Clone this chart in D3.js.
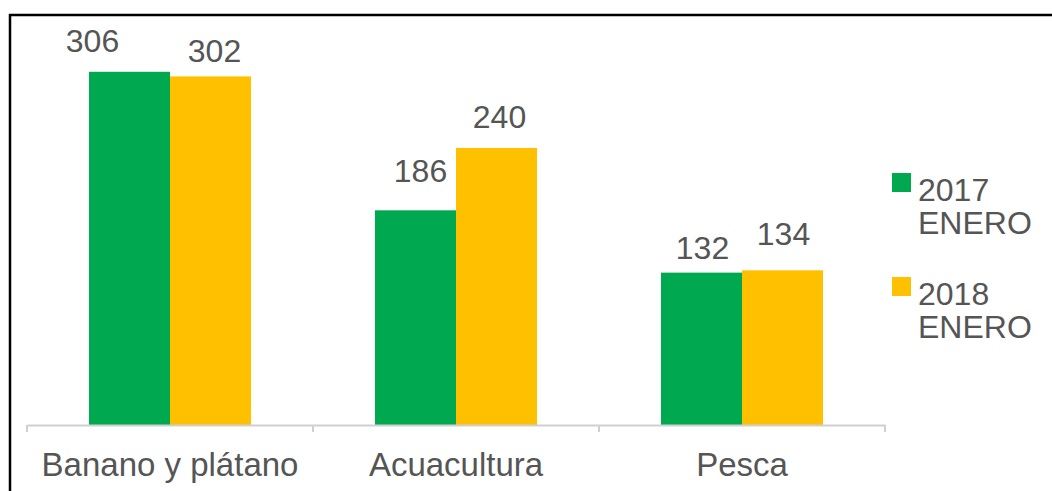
<!DOCTYPE html>
<html lang="es">
<head>
<meta charset="UTF-8">
<title>Banano, acuacultura y pesca</title>
<script src="https://d3js.org/d3.v7.min.js"></script>
<style>
    body { margin: 0; background: #fff; }
    svg { display: block; }
    text { font-family: "Liberation Sans", Arial, sans-serif; fill: #555; }
</style>
</head>
<body>
<svg width="1052" height="491"></svg>
<script>
    // datos
    const categories = ["Banano y plátano", "Acuacultura", "Pesca"];
    const seriesNames = ["2017 ENERO", "2018 ENERO"];
    const values2017 = [306, 186, 132];
    const values2018 = [302, 240, 134];

    const colors = ["#00a94f", "#ffc000"];
    // pequeños ajustes de posición de las etiquetas [dx, dy] (como en el original)
    const labelNudge = [
        [[-37, -20], [4, -14]],
        [[5, -28], [3, -20]],
        [[1, -14], [1, -25]]
    ];

    const svg = d3.select("svg");
    const baseY = 425;

    // marco
    svg.append("line").attr("x1", 9).attr("x2", 1052).attr("y1", 15).attr("y2", 15)
        .attr("stroke", "#000").attr("stroke-width", 2.5);
    svg.append("line").attr("x1", 10).attr("x2", 10).attr("y1", 14).attr("y2", 491)
        .attr("stroke", "#000").attr("stroke-width", 2.5);

    const x0 = d3.scaleBand().domain(categories).range([27, 885]).padding(0);
    const x1 = d3.scaleBand().domain(seriesNames).range([0, x0.bandwidth()])
        .paddingInner(0).paddingOuter(0.765);
    const y = d3.scaleLinear().domain([0, 350]).range([baseY, 21]);

    const rows = categories.map((c, i) => ({
        cat: c,
        vals: [values2017[i], values2018[i]]
    }));

    const group = svg.selectAll("g.cat")
        .data(rows)
        .enter()
        .append("g")
        .attr("class", "cat")
        .attr("transform", d => `translate(${x0(d.cat)},0)`);

    group.selectAll("rect")
        .data(d => d.vals.map((v, j) => ({ v, s: seriesNames[j], j })))
        .enter()
        .append("rect")
        .attr("x", d => x1(d.s))
        .attr("y", d => y(d.v))
        .attr("width", x1.bandwidth())
        .attr("height", d => baseY - y(d.v))
        .attr("fill", d => colors[d.j]);

    group.each(function (d, i) {
        d3.select(this).selectAll("text.val")
            .data(d.vals)
            .enter()
            .append("text")
            .attr("class", "val")
            .attr("x", (v, j) => x1(seriesNames[j]) + x1.bandwidth() / 2 + labelNudge[i][j][0])
            .attr("y", (v, j) => y(v) + labelNudge[i][j][1])
            .attr("text-anchor", "middle")
            .style("font-size", "32px")
            .text(v => v);
    });

    // eje
    const axis = svg.append("g").attr("transform", `translate(0,${baseY})`)
        .call(d3.axisBottom(x0).tickSize(0).tickPadding(28));
    axis.select(".domain").attr("stroke", "#d0d0d0").attr("stroke-width", 2);
    axis.selectAll(".tick text")
        .style("font-size", "33px")
        .attr("font-family", null)
        .attr("fill", null);
    const bounds = categories.map(c => x0(c)).concat([x0.range()[1]]);
    axis.selectAll("line.sep")
        .data(bounds)
        .enter()
        .append("line")
        .attr("class", "sep")
        .attr("x1", d => d).attr("x2", d => d)
        .attr("y1", 0).attr("y2", 7)
        .attr("stroke", "#d0d0d0").attr("stroke-width", 2);

    // leyenda
    const legend = svg.append("g").attr("transform", "translate(892,173)");
    const item = legend.selectAll("g")
        .data(seriesNames)
        .enter()
        .append("g")
        .attr("transform", (d, i) => `translate(0,${i * 104})`);
    item.append("rect")
        .attr("width", 19).attr("height", 19)
        .attr("fill", (d, i) => colors[i]);
    item.append("text")
        .attr("x", 26)
        .attr("y", 28)
        .style("font-size", "32px")
        .selectAll("tspan")
        .data(d => d.split(" "))
        .enter()
        .append("tspan")
        .attr("x", 26)
        .attr("dy", (d, k) => k === 0 ? 0 : 33)
        .text(d => d);
</script>
</body>
</html>
